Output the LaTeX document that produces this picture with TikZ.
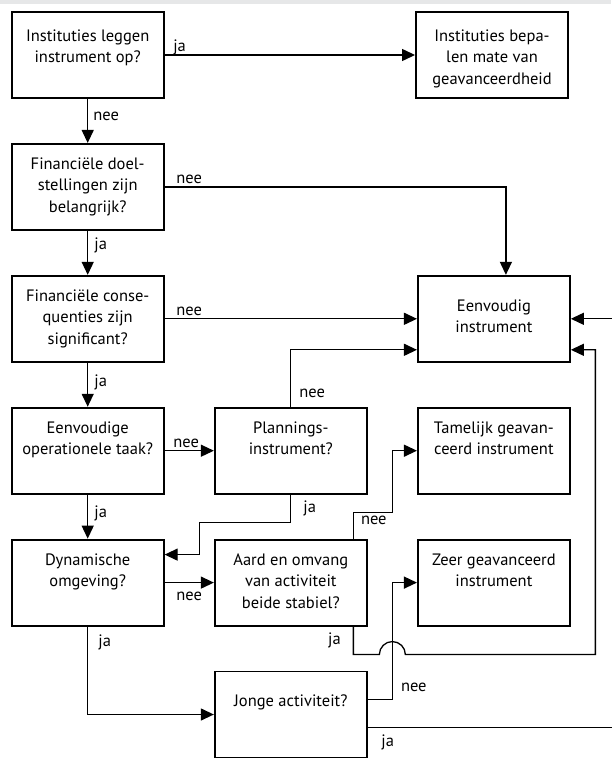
\documentclass[tikz,border=0pt]{standalone}
\usepackage{fontspec}
\setmainfont{PT Sans}
\usetikzlibrary{arrows.meta,positioning,calc}
\definecolor{topband}{HTML}{E6E7E8}
\newcommand{\boxtext}[2][0pt]{\parbox[t][65.2pt][t]{146pt}{\centering\vspace*{#1}\strut #2}}

\begin{document}
\begin{tikzpicture}[x=1pt,y=1pt,node distance=44pt and 49.2pt,>={Triangle[length=13pt,width=12pt]},font=\fontsize{16.5}{21.5}\selectfont]
		\tikzstyle{block}=[rectangle, draw=black, line width=1.9pt, inner xsep=3pt, inner ysep=10.4pt, minimum width=152pt, minimum height=86pt]
		\tikzstyle{line}=[->, line width=1.3pt]
		\tikzstyle{lbl}=[inner sep=3pt, text depth=0pt]

		\useasboundingbox (0,0) rectangle (611,-765);
		\fill [topband] (0,0) rectangle (611,-4);

		\node [block] (opleggen) at (87.7,-55) {\boxtext[4pt]{Instituties leggen\\instrument op?}};
		\node [block] (bepalen) [right=250.4pt of opleggen] {\boxtext[4pt]{Instituties bepa-\\len mate van\\geavanceerdheid}};
		\node [block] (doel) [below=of opleggen] {\boxtext{Financiële doel-\\stellingen zijn\\belangrijk?}};
		\node [block] (conseq) [below=of doel] {\boxtext{Financiële conse-\\quenties zijn\\significant?}};
		\node [block] (taak) [below=of conseq] {\boxtext{Eenvoudige\\operationele taak?}};
		\node [block] (planning) [right=of taak] {\boxtext{Plannings-\\instrument?}};
		\node [block] (tamelijk) [right=of planning] {\boxtext{Tamelijk geavan-\\ceerd instrument}};
		\node [block] (eenvoudig) [above=of tamelijk] {\boxtext[10pt]{Eenvoudig\\instrument}};
		\node [block] (dynamisch) [below=of taak] {\boxtext{Dynamische\\omgeving?}};
		\node [block] (aard) [right=of dynamisch] {\boxtext{Aard en omvang\\van activiteit\\beide stabiel?}};
		\node [block] (zeer) [right=of aard] {\boxtext{Zeer geavanceerd\\instrument}};
		\node [block] (jong) [below=of aard] {\boxtext[10pt]{Jonge activiteit?}};

		\coordinate (mid) at ($(planning.east)!0.5!(tamelijk.west)$);
		\coordinate (rail) at ($(zeer.east)+(24.5,0)$);
		\coordinate (outer) at ($(eenvoudig.east)+(52,0)$);

		\draw [line] (opleggen) -- (bepalen) node [lbl, above right, pos=0, xshift=5pt] {ja};
		\draw [line] (opleggen) -- (doel) node [lbl, right, pos=0.4, xshift=2pt] {nee};
		\draw [line] (doel) -| ($(eenvoudig.north)+(12,0)$) node [lbl, above right, pos=0, xshift=8pt] {nee};
		\draw [line] (doel) -- (conseq) node [lbl, right, pos=0.3, xshift=3pt] {ja};
		\draw [line] (conseq) -- (eenvoudig) node [lbl, above right, pos=0, xshift=8pt] {nee};
		\draw [line] (conseq) -- (taak) node [lbl, right, pos=0.4, xshift=3pt] {ja};
		\draw [line] (taak) -- (planning) node [lbl, above, midway, xshift=-3pt] {nee};
		\draw [line] (planning) |- ([yshift=-31pt]eenvoudig.west) node [lbl, right, pos=0.12, xshift=5pt] {nee};
		\draw [line] (taak) -- (dynamisch) node [lbl, right, pos=0.38, xshift=3pt] {ja};
		\draw [line] (planning.south) -- ++(0,-28) node [lbl, right, pos=0.42, xshift=9pt] {ja} -| ($(dynamisch.east)+(35,28)$) -- ($(dynamisch.east)+(0,28)$);
		\draw [line] (dynamisch) -- (aard) node [lbl, below, midway, yshift=-6pt] {nee};
		\draw [line] ([xshift=-14.4pt]aard.north east) -- ++(0,26) node [lbl, right, pos=0.7, xshift=4pt] {nee} -| (mid |- tamelijk.west) -- (tamelijk.west);
		% ja-tak met sprong over de nee-lijn
		\draw [line] ([xshift=-14.4pt]aard.south east) -- ++(0,-28) node [lbl, left, pos=0.45, xshift=-9pt] {ja}
			-- ($(mid |- aard.south)+(-13,-28)$) arc [start angle=180, end angle=0, radius=13]
			-- ($(rail |- aard.south)+(0,-28)$) |- ([yshift=-31pt]eenvoudig.east);
		\draw [line] (dynamisch) |- (jong) node [lbl, right, pos=0.08, xshift=7pt] {ja};
		\draw [line] ([yshift=15pt]jong.east) -| (mid |- zeer.west) node [lbl, above right, pos=0.5, xshift=5pt, yshift=4pt] {nee} -- (zeer.west);
		\draw [line] ([yshift=-13pt]jong.east) -| (outer) node [lbl, below right, pos=0, xshift=10pt, yshift=-4pt] {ja} -- (eenvoudig.east);
	\end{tikzpicture}
\end{document}
